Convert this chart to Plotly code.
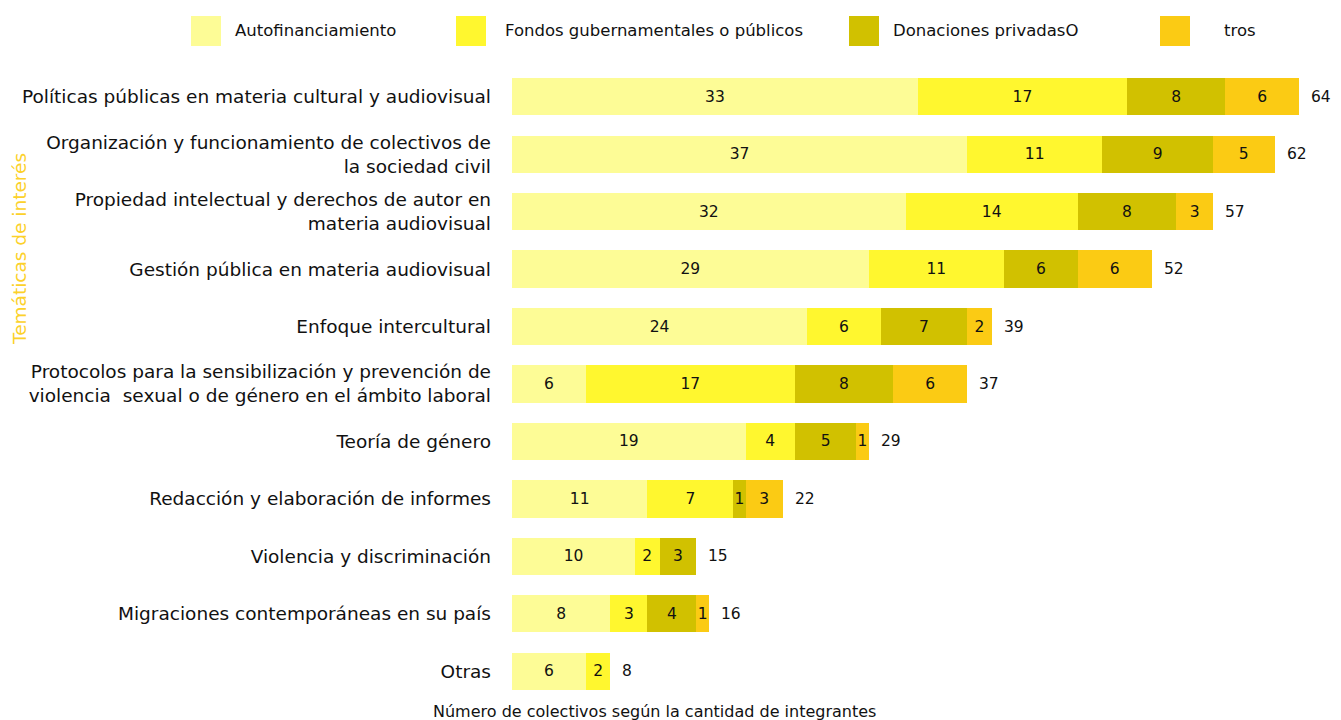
import plotly.graph_objects as go

# Datos
tematicas = [
    "Políticas públicas en materia cultural y audiovisual",
    "Organización y funcionamiento de colectivos de<br>la sociedad civil",
    "Propiedad intelectual y derechos de autor en<br>materia audiovisual",
    "Gestión pública en materia audiovisual",
    "Enfoque intercultural",
    "Protocolos para la sensibilización y prevención de<br>violencia  sexual o de género en el ámbito laboral",
    "Teoría de género",
    "Redacción y elaboración de informes",
    "Violencia y discriminación",
    "Migraciones contemporáneas en su país",
    "Otras",
]
autofinanciamiento = [33, 37, 32, 29, 24, 6, 19, 11, 10, 8, 6]
fondos_publicos = [17, 11, 14, 11, 6, 17, 4, 7, 2, 3, 2]
donaciones_privadas = [8, 9, 8, 6, 7, 8, 5, 1, 3, 4, None]
otros = [6, 5, 3, 6, 2, 6, 1, 3, None, 1, None]
series_nombres = ["Autofinanciamiento", "Fondos gubernamentales o públicos",
                  "Donaciones privadasO", "tros"]
colores = ["#FDFC96", "#FFF72F", "#D1C100", "#FBCB14"]

series = [autofinanciamiento, fondos_publicos, donaciones_privadas, otros]
totales = [sum(v or 0 for v in fila) for fila in zip(*series)]

# la página deja 8px de margen, así que se trabaja en coordenadas de la captura
OFF = 8
W, H = 1341 - OFF, 720 - OFF
ML, MR, MT, MB = 512 - OFF, 5, 68 - OFF, 20
PW, PH = W - ML - MR, H - MT - MB


def px_x(px):
    return (px - OFF - ML) / PW


def px_y(py):
    return (H - MB - (py - OFF)) / PH


FUENTE = "DejaVu Sans"
fig = go.Figure()

for nombre, valores, color in zip(series_nombres, series, colores):
    fig.add_trace(go.Bar(
        y=tematicas, x=valores, name=nombre, orientation="h",
        marker=dict(color=color, line=dict(width=0)),
        text=[str(v) if v else "" for v in valores],
        textposition="inside", insidetextanchor="middle",
        textangle=0, constraintext="none",
        textfont=dict(color="#111111", size=15.5, family=FUENTE),
        showlegend=False,
    ))

# totales a la derecha de cada barra
for cat, tot in zip(tematicas, totales):
    fig.add_annotation(x=tot, y=cat, text=str(tot), showarrow=False,
                       xanchor="left", xshift=10,
                       font=dict(size=15.5, color="#111111", family=FUENTE))

# leyenda manual (cuadros grandes)
leyenda_x = [191, 456, 849, 1160]
texto_dx = [42, 47, 42, 62]
for nombre, color, lx, dx in zip(series_nombres, colores, leyenda_x, texto_dx):
    fig.add_shape(type="rect", xref="paper", yref="paper",
                  x0=px_x(lx), x1=px_x(lx + 30), y0=px_y(46), y1=px_y(16),
                  fillcolor=color, line=dict(width=0))
    fig.add_annotation(xref="paper", yref="paper", x=px_x(lx + dx), y=px_y(31),
                       text=nombre, showarrow=False, xanchor="left", yanchor="middle",
                       font=dict(size=16.5, color="#111111", family=FUENTE))

# títulos de ejes
fig.add_annotation(xref="paper", yref="paper", x=px_x(654), y=px_y(711),
                   text="Número de colectivos según la cantidad de integrantes",
                   showarrow=False, xanchor="center", yanchor="middle",
                   font=dict(size=16, color="#111111", family=FUENTE))
fig.add_annotation(xref="paper", yref="paper", x=px_x(20), y=px_y(249),
                   text="Temáticas de interés", textangle=-90,
                   showarrow=False, xanchor="center", yanchor="middle",
                   font=dict(size=18.5, color="#FCD12A", family=FUENTE))

fig.update_layout(
    width=W, height=H,
    barmode="stack", bargap=0.35,
    margin=dict(l=ML, r=MR, t=MT, b=MB),
    plot_bgcolor="white", paper_bgcolor="white",
    font=dict(family=FUENTE, color="#111111"),
    xaxis=dict(range=[0, 67], visible=False, fixedrange=True),
    yaxis=dict(autorange="reversed", showgrid=False, zeroline=False,
               ticks="", ticklabelstandoff=20,
               tickfont=dict(size=18.5, color="#111111", family=FUENTE)),
)

fig.write_html("out.html")
